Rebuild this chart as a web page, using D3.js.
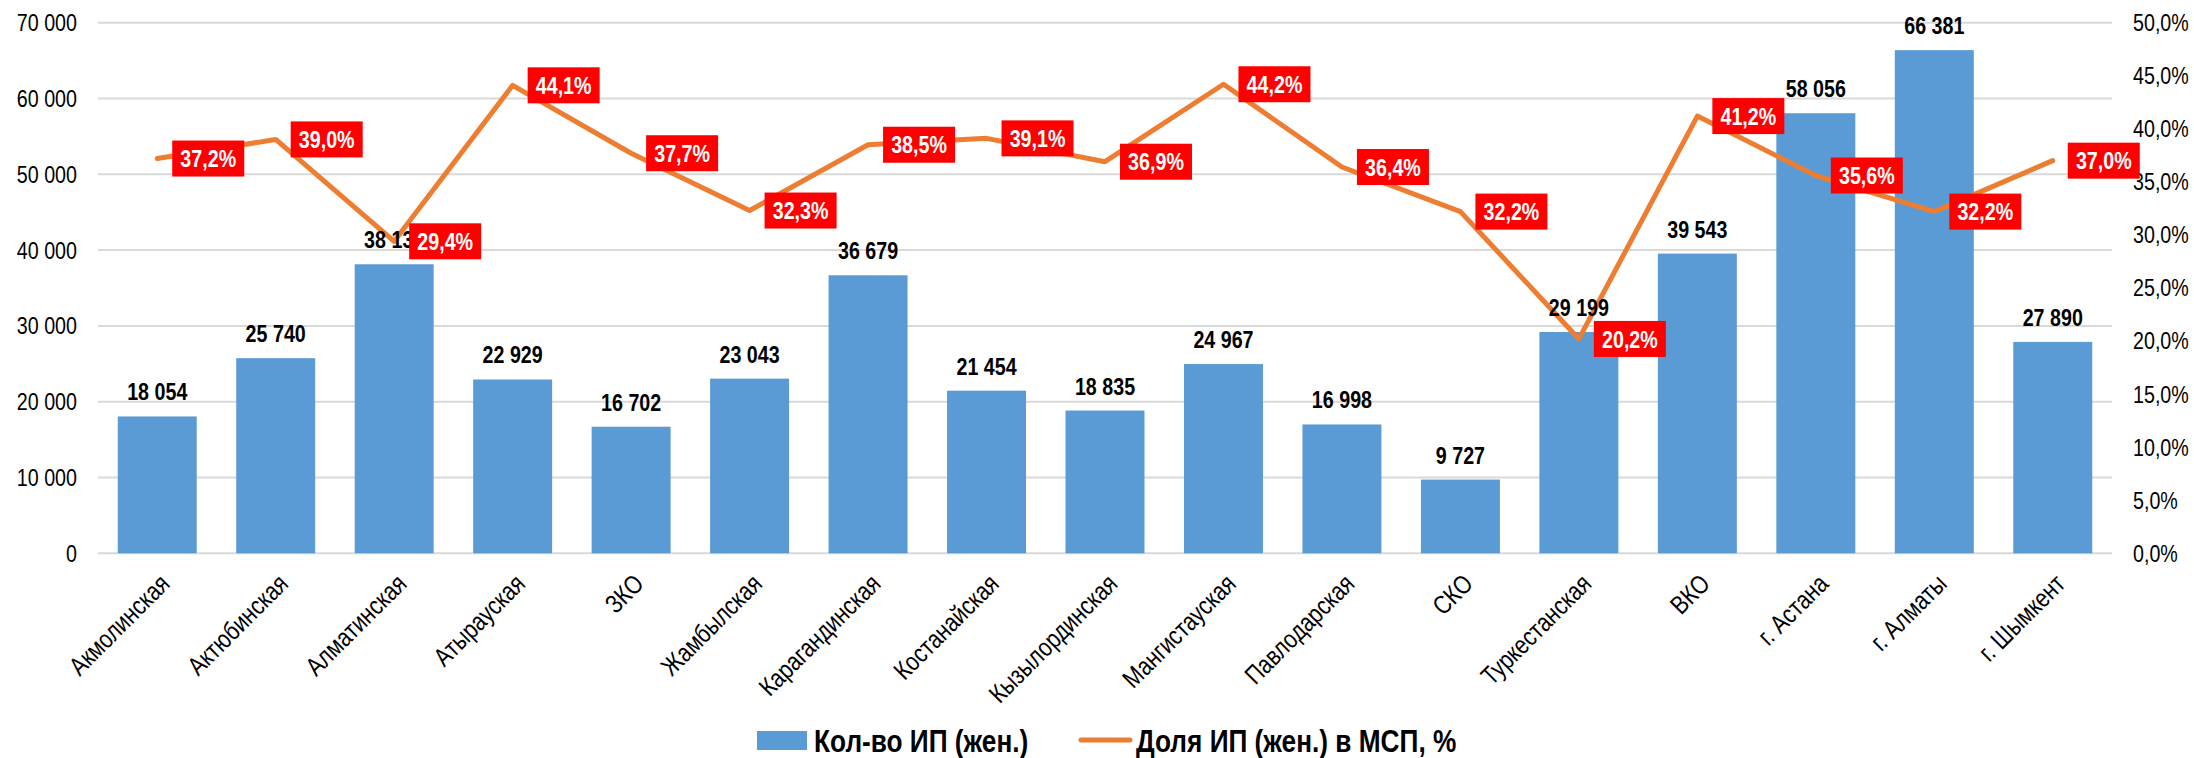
<!DOCTYPE html>
<html>
<head>
<meta charset="utf-8">
<script src="https://cdn.jsdelivr.net/npm/d3@7"></script>
<style>
  html, body { margin: 0; padding: 0; background: #fff; }
  svg { display: block; }
  text { font-family: "Liberation Sans Narrow", "Arial Narrow", "Liberation Sans", Arial, sans-serif; }
</style>
</head>
<body>
<svg id="chart" width="2194" height="758"></svg>
<script>
const categories = ["Акмолинская","Актюбинская","Алматинская","Атырауская","ЗКО","Жамбылская","Карагандинская","Костанайская","Кызылординская","Мангистауская","Павлодарская","СКО","Туркестанская","ВКО","г. Астана","г. Алматы","г. Шымкент"];
const counts = [18054,25740,38131,22929,16702,23043,36679,21454,18835,24967,16998,9727,29199,39543,58056,66381,27890];
const shares = [37.2,39.0,29.4,44.1,37.7,32.3,38.5,39.1,36.9,44.2,36.4,32.2,20.2,41.2,35.6,32.2,37.0];
const leftTicks = [0,10000,20000,30000,40000,50000,60000,70000];
const rightTicks = [0,5,10,15,20,25,30,35,40,45,50];
const seriesNames = ["Кол-во ИП (жен.)", "Доля ИП (жен.) в МСП, %"];

const plot = {left: 98, right: 2112, top: 22.7, bottom: 553.3};
const barColor = "#5B9BD5", lineColor = "#ED7D31", gridColor = "#D9D9D9", boxColor = "#FF0000";
const SX = 0.82; // horizontal condensing to mimic a narrow face

const svg = d3.select("#chart");

const x = d3.scaleBand().domain(categories).range([plot.left, plot.right])
  .paddingInner(1/3).paddingOuter(1/6);
const yL = d3.scaleLinear().domain([0, 70000]).range([plot.bottom, plot.top]);
const yR = d3.scaleLinear().domain([0, 50]).range([plot.bottom, plot.top]);

const fmtInt = v => d3.format(",")(v).replace(/,/g, " ");
const fmtPct = v => v.toFixed(1).replace(".", ",") + "%";
const cx = d => x(d) + x.bandwidth() / 2;

// gridlines
svg.append("g").selectAll("line").data(leftTicks).join("line")
  .attr("x1", plot.left).attr("x2", plot.right)
  .attr("y1", d => yL(d)).attr("y2", d => yL(d))
  .attr("stroke", gridColor).attr("stroke-width", 2);

// left axis labels
svg.append("g").selectAll("text").data(leftTicks).join("text")
  .attr("transform", d => `translate(77,${yL(d)}) scale(${SX},1)`)
  .attr("dy", "0.35em")
  .attr("text-anchor", "end").attr("font-size", 24).attr("fill", "#000")
  .text(d => fmtInt(d));

// right axis labels
svg.append("g").selectAll("text").data(rightTicks).join("text")
  .attr("transform", d => `translate(2133,${yR(d)}) scale(${SX},1)`)
  .attr("dy", "0.35em")
  .attr("text-anchor", "start").attr("font-size", 24).attr("fill", "#000")
  .text(d => fmtPct(d));

// bars
svg.append("g").selectAll("rect").data(categories).join("rect")
  .attr("x", d => x(d)).attr("width", x.bandwidth())
  .attr("y", (d, i) => yL(counts[i]))
  .attr("height", (d, i) => yL(0) - yL(counts[i]))
  .attr("fill", barColor);

// x labels
svg.append("g").selectAll("text").data(categories).join("text")
  .attr("transform", d => `translate(${cx(d) + 14},${plot.bottom + 32}) rotate(-45) scale(${SX},1)`)
  .attr("text-anchor", "end").attr("font-size", 26).attr("fill", "#000")
  .text(d => d);

// line
const line = d3.line()
  .x((d, i) => cx(categories[i]))
  .y(d => yR(d));
svg.append("path").datum(shares)
  .attr("d", line).attr("fill", "none")
  .attr("stroke", lineColor).attr("stroke-width", 5)
  .attr("stroke-linejoin", "round").attr("stroke-linecap", "round");

// bar value labels
svg.append("g").selectAll("text").data(categories).join("text")
  .attr("transform", (d, i) => `translate(${cx(d)},${yL(counts[i]) - 16}) scale(${SX},1)`)
  .attr("text-anchor", "middle").attr("font-size", 24).attr("font-weight", "bold").attr("fill", "#000")
  .text((d, i) => fmtInt(counts[i]));

// percent boxes
const boxes = svg.append("g").selectAll("g").data(categories).join("g")
  .attr("transform", (d, i) => `translate(${cx(d) + 15},${yR(shares[i])})`);
boxes.append("rect").attr("x", 0).attr("y", -18).attr("width", 72).attr("height", 36).attr("fill", boxColor);
boxes.append("text")
  .attr("transform", `translate(36,0) scale(${SX},1)`)
  .attr("dy", "0.36em")
  .attr("text-anchor", "middle").attr("font-size", 24).attr("font-weight", "bold").attr("fill", "#fff")
  .text((d, i) => fmtPct(shares[i]));

// legend
const lg = svg.append("g");
lg.append("rect").attr("x", 757).attr("y", 731).attr("width", 50).attr("height", 19).attr("fill", barColor);
lg.append("text").attr("transform", `translate(814,740) scale(${SX},1)`).attr("dy", "0.36em")
  .attr("font-size", 32).attr("font-weight", "bold").attr("fill", "#000").text(seriesNames[0]);
lg.append("line").attr("x1", 1081).attr("x2", 1130).attr("y1", 740).attr("y2", 740)
  .attr("stroke", lineColor).attr("stroke-width", 5).attr("stroke-linecap", "round");
lg.append("text").attr("transform", `translate(1136,740) scale(${SX},1)`).attr("dy", "0.36em")
  .attr("font-size", 32).attr("font-weight", "bold").attr("fill", "#000").text(seriesNames[1]);
</script>
</body>
</html>
